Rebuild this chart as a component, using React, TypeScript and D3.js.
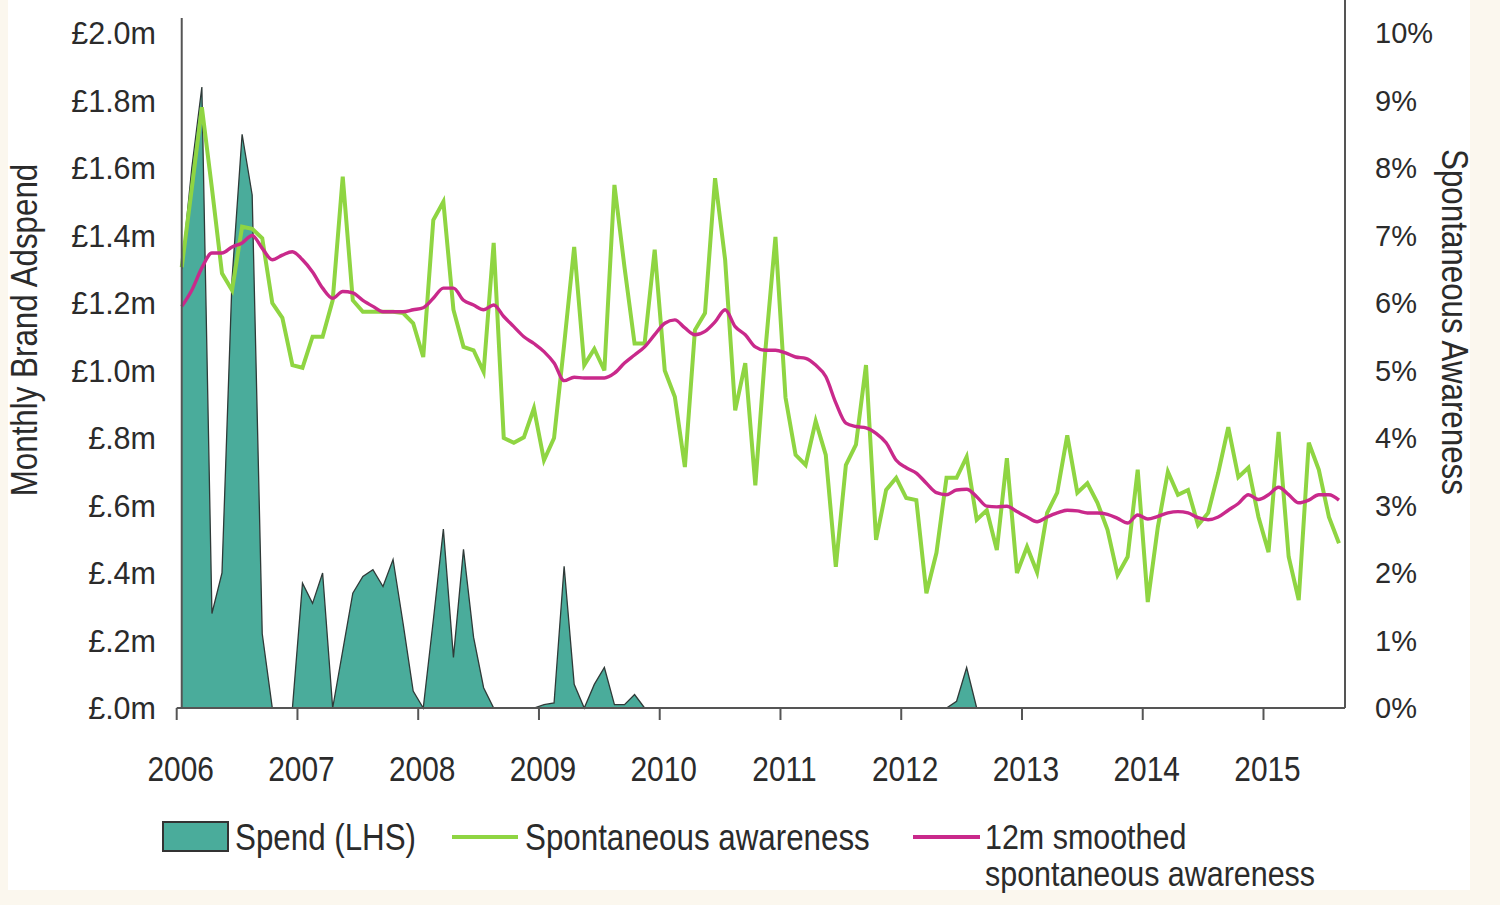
import React from "react";
import * as d3 from "d3";

// ---- Data (Jan 2006 .. Aug 2015, monthly) ----
const spend = [
  1.30, 1.60, 1.84, 0.28, 0.40, 1.27, 1.70, 1.52, 0.22, 0, 0, 0,
  0.37, 0.31, 0.40, 0, 0.17, 0.34, 0.39, 0.41, 0.36, 0.44, 0.25, 0.05,
  0, 0.26, 0.53, 0.15, 0.47, 0.21, 0.06, 0, 0, 0, 0, 0,
  0.01, 0.015, 0.42, 0.07, 0, 0.07, 0.12, 0.01, 0.01, 0.04, 0, 0,
  0, 0, 0, 0, 0, 0, 0, 0, 0, 0, 0, 0,
  0, 0, 0, 0, 0, 0, 0, 0, 0, 0, 0, 0,
  0, 0, 0, 0, 0, 0.02, 0.12, 0, 0, 0, 0, 0,
  0, 0, 0, 0, 0, 0, 0, 0, 0, 0, 0, 0,
  0, 0, 0, 0, 0, 0, 0, 0, 0, 0, 0, 0,
  0, 0, 0, 0, 0, 0, 0, 0,
];

const awareness = [
  6.53, 7.7, 8.9, 7.7, 6.44, 6.19, 7.13, 7.1, 6.96, 6.0, 5.78, 5.08,
  5.04, 5.5, 5.5, 6.04, 7.87, 6.04, 5.87, 5.87, 5.87, 5.87, 5.85, 5.7,
  5.2, 7.23, 7.5, 5.9, 5.35, 5.3, 4.98, 6.89, 4.0, 3.93, 4.01, 4.44,
  3.67, 4.0, 5.38, 6.83, 5.08, 5.32, 5.0, 7.75, 6.53, 5.4, 5.4, 6.79,
  5.0, 4.61, 3.57, 5.6, 5.85, 7.85, 6.64, 4.41, 5.11, 3.3, 5.3, 6.98,
  4.6, 3.75, 3.6, 4.25, 3.75, 2.09, 3.6, 3.9, 5.08, 2.49, 3.23, 3.41,
  3.11, 3.08, 1.7, 2.3, 3.41, 3.41, 3.72, 2.79, 2.93, 2.34, 3.7, 2.0,
  2.39, 2.01, 2.89, 3.19, 4.04, 3.19, 3.33, 3.04, 2.64, 1.97, 2.24, 3.53,
  1.57, 2.68, 3.5, 3.16, 3.23, 2.71, 2.89, 3.48, 4.16, 3.42, 3.56, 2.83,
  2.31, 4.09, 2.24, 1.6, 3.93, 3.53, 2.83, 2.44,
];

const smoothed = [
  5.95, 6.19, 6.52, 6.74, 6.74, 6.83, 6.89, 7.0, 6.81, 6.64, 6.71, 6.76,
  6.64, 6.46, 6.22, 6.07, 6.17, 6.15, 6.04, 5.95, 5.87, 5.87, 5.87, 5.9,
  5.93, 6.07, 6.22, 6.22, 6.04, 5.97, 5.9, 5.97, 5.8, 5.65, 5.5, 5.4,
  5.28, 5.11, 4.85, 4.9, 4.89, 4.89, 4.89, 4.96, 5.11, 5.23, 5.35, 5.53,
  5.7, 5.75, 5.63, 5.53, 5.58, 5.72, 5.9, 5.65, 5.53, 5.35, 5.3, 5.3,
  5.26, 5.2, 5.18, 5.08, 4.91, 4.52, 4.22, 4.17, 4.15, 4.07, 3.93, 3.67,
  3.56, 3.48, 3.33, 3.19, 3.16, 3.23, 3.24, 3.13, 2.99, 2.98, 2.99, 2.91,
  2.83, 2.76, 2.83, 2.89, 2.93, 2.92, 2.89, 2.89, 2.87, 2.81, 2.74, 2.86,
  2.8, 2.84, 2.89, 2.91, 2.89, 2.82, 2.79, 2.83, 2.93, 3.03, 3.16, 3.09,
  3.16, 3.27, 3.16, 3.04, 3.08, 3.16, 3.16, 3.08,
];

const years = ["2006", "2007", "2008", "2009", "2010", "2011", "2012", "2013", "2014", "2015"];
const leftTicks = [0, 0.2, 0.4, 0.6, 0.8, 1.0, 1.2, 1.4, 1.6, 1.8, 2.0];
const leftTickLabels = ["£.0m", "£.2m", "£.4m", "£.6m", "£.8m", "£1.0m", "£1.2m", "£1.4m", "£1.6m", "£1.8m", "£2.0m"];
const rightTicks = [0, 1, 2, 3, 4, 5, 6, 7, 8, 9, 10];
const rightTickLabels = rightTicks.map((v) => `${v}%`);

const FONT = "'Liberation Sans', Arial, Helvetica, sans-serif";
const TEAL = "#4aac9b";
const GREEN = "#8fd542";
const PINK = "#c9298b";
const AXIS = "#555";
const TEXT = "#2b2b2b";

export default function App() {
  const n = spend.length;
  const x = d3.scaleLinear().domain([-0.5, n - 0.5]).range([176.7, 1344]);
  const yL = d3.scaleLinear().domain([0, 2.0]).range([708, 33]);
  const yR = d3.scaleLinear().domain([0, 10]).range([708, 33]);

  const area = d3
    .area<number>()
    .x((_, i) => x(i))
    .y0(yL(0))
    .y1((d) => yL(d));
  const spendTop = d3
    .line<number>()
    .x((_, i) => x(i))
    .y((d) => yL(d));
  const greenLine = d3
    .line<number>()
    .x((_, i) => x(i))
    .y((d) => yR(d));
  const pinkLine = d3
    .line<number>()
    .x((_, i) => x(i))
    .y((d) => yR(d))
    .curve(d3.curveMonotoneX);

  const yearTickIdx = years.map((_, k) => k * 12 - 0.5);
  const baseY = yL(0);

  return (
    <div style={{ position: "absolute", left: 0, top: 0 }}>
      <svg width={1500} height={905} style={{ display: "block" }} fontFamily={FONT}>
        <rect x={0} y={0} width={1500} height={905} fill="#fbf7ee" />
        <rect x={8} y={0} width={1462} height={890} fill="#ffffff" />

        {/* Spend area */}
        <path d={area(spend) || ""} fill={TEAL} />
        <path d={spendTop(spend) || ""} fill="none" stroke="#2f3a38" strokeWidth={1.3} />

        {/* Lines */}
        <path d={greenLine(awareness) || ""} fill="none" stroke={GREEN} strokeWidth={4} strokeLinejoin="miter" />
        <path d={pinkLine(smoothed) || ""} fill="none" stroke={PINK} strokeWidth={3.4} />

        {/* Axes */}
        <line x1={x(0)} x2={x(0)} y1={18} y2={baseY} stroke={AXIS} strokeWidth={2} />
        <line x1={1345} x2={1345} y1={0} y2={baseY} stroke={AXIS} strokeWidth={2} />
        <line x1={x(-0.5)} x2={1345} y1={baseY} y2={baseY} stroke={AXIS} strokeWidth={2} />
        {yearTickIdx.map((t, k) => (
          <line key={"t" + k} x1={x(t)} x2={x(t)} y1={baseY} y2={baseY + 12} stroke={AXIS} strokeWidth={2} />
        ))}

        {/* Left tick labels */}
        {leftTicks.map((v, k) => (
          <text key={"l" + k} x={156} y={yL(v)} textAnchor="end" dominantBaseline="central" fontSize={30.5} fill={TEXT}>
            {leftTickLabels[k]}
          </text>
        ))}
        {/* Right tick labels */}
        {rightTicks.map((v, k) => (
          <text key={"r" + k} x={1375} y={yR(v)} textAnchor="start" dominantBaseline="central" fontSize={29} fill={TEXT}>
            {rightTickLabels[k]}
          </text>
        ))}
        {/* Year labels */}
        {years.map((yr, k) => (
          <text
            key={"y" + k}
            transform={`translate(${x(yearTickIdx[k]) + 4},781) scale(0.83,1)`}
            textAnchor="middle"
            fontSize={36}
            fill={TEXT}
          >
            {yr}
          </text>
        ))}

        {/* Axis titles */}
        <text
          transform="translate(24,330) rotate(-90) scale(0.87,1)"
          textAnchor="middle"
          dominantBaseline="central"
          fontSize={36}
          fill={TEXT}
        >
          Monthly Brand Adspend
        </text>
        <text
          transform="translate(1455,322) rotate(90) scale(0.87,1)"
          textAnchor="middle"
          dominantBaseline="central"
          fontSize={36}
          fill={TEXT}
        >
          Spontaneous Awareness
        </text>

        {/* Legend */}
        <rect x={163} y={822} width={65} height={29} fill={TEAL} stroke="#333" strokeWidth={2} />
        <text transform="translate(235,850) scale(0.87,1)" fontSize={36} fill={TEXT}>
          Spend (LHS)
        </text>
        <line x1={452} x2={518} y1={837} y2={837} stroke={GREEN} strokeWidth={4} />
        <text transform="translate(525,850) scale(0.87,1)" fontSize={36} fill={TEXT}>
          Spontaneous awareness
        </text>
        <line x1={913} x2={980} y1={837} y2={837} stroke={PINK} strokeWidth={4} />
        <text transform="translate(985,849) scale(0.87,1)" fontSize={35} fill={TEXT}>
          12m smoothed
        </text>
        <text transform="translate(985,886) scale(0.87,1)" fontSize={35} fill={TEXT}>
          spontaneous awareness
        </text>
      </svg>
    </div>
  );
}
